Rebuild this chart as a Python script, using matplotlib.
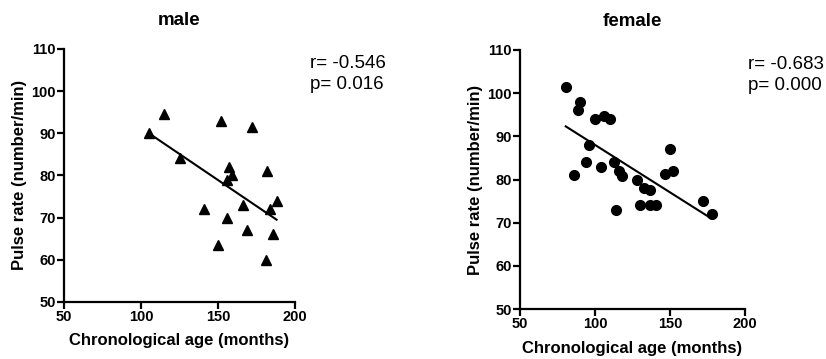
#!/usr/bin/env python3
import matplotlib
matplotlib.use('Agg')
import matplotlib.pyplot as plt

# male panel (triangles)
male_age = [105, 115, 125, 152, 172, 157, 156, 159, 182, 141, 156, 166, 169, 188, 184, 186, 150, 181]
male_pulse = [90, 94.5, 84, 93, 91.5, 82, 79, 80, 81, 72, 70, 73, 67, 74, 72, 66, 63.5, 60]
male_fit_x = [105, 188]
male_fit_y = [90, 69.5]

# female panel (circles)
female_age = [81, 90, 89, 86, 100, 106, 110, 96, 94, 104, 113, 116, 118, 114, 128, 133, 137,
              130, 137, 141, 147, 150, 152, 172, 178]
female_pulse = [101.5, 98, 96, 81, 94, 94.7, 94, 88, 84, 83, 84, 82, 80.7, 73, 80, 78, 77.5,
                74, 74, 74, 81.2, 87, 82, 75, 72]
female_fit_x = [80.5, 177]
female_fit_y = [92.3, 71.1]

plt.rcParams['font.family'] = ['Liberation Sans', 'DejaVu Sans']


def panel(ax, x, y, fx, fy, marker, ms, title, stats, stats_pos, xlpad):
    ax.plot(x, y, linestyle='none', marker=marker, color='black', ms=ms)
    ax.plot(fx, fy, color='black', lw=1.5)
    ax.set_xlim(50, 200)
    ax.set_ylim(50, 110)
    ax.set_xticks([50, 100, 150, 200])
    ax.set_yticks([50, 60, 70, 80, 90, 100, 110])
    for s in ['top', 'right']:
        ax.spines[s].set_visible(False)
    for s in ['left', 'bottom']:
        ax.spines[s].set_linewidth(1.6)
    ax.tick_params(direction='out', length=5, width=1.6, labelsize=10.5, pad=1)
    for lab in ax.get_xticklabels() + ax.get_yticklabels():
        lab.set_fontweight('bold')
    ax.set_xlabel('Chronological age (months)', fontsize=12, fontweight='bold', labelpad=xlpad)
    ax.set_ylabel('Pulse rate (number/min)', fontsize=12, fontweight='bold', labelpad=3)
    ax.set_title(title, fontsize=13.5, fontweight='bold', pad=17)
    ax.text(stats_pos[0], stats_pos[1], stats, transform=ax.figure.transFigure, fontsize=13.5,
            va='top', ha='left', linespacing=1.3)


fig = plt.figure(figsize=(8.26, 3.59), dpi=100)
ax1 = fig.add_axes([0.0775, 0.159, 0.2797, 0.705])
ax2 = fig.add_axes([0.6295, 0.139, 0.2724, 0.722])

panel(ax1, male_age, male_pulse, male_fit_x, male_fit_y, '^', 7, 'male',
      'r= -0.546\np= 0.016', (310 / 826, 1 - 55 / 359), 6)
panel(ax2, female_age, female_pulse, female_fit_x, female_fit_y, 'o', 7, 'female',
      'r= -0.683\np= 0.000', (748 / 826, 1 - 56 / 359), 7)

fig.savefig('out.png', dpi=100)
